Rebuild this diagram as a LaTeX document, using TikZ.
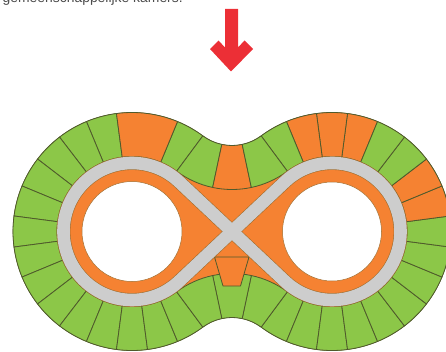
\documentclass[tikz,border=0pt]{standalone}
\usepackage{fontspec}
\setmainfont{Liberation Sans}
\definecolor{roomgreen}{HTML}{8CC748}
\definecolor{roomorange}{HTML}{F58232}
\definecolor{hallgray}{HTML}{CDCDCD}
\definecolor{arrowred}{HTML}{EC2F36}
\definecolor{wallline}{HTML}{4F5A2C}
\newcommand{\neckangle}{53.47}
% room on the ring: fill, centre x, from angle, to angle
\newcommand{\ringroom}[4]{\filldraw[roomwall, fill=#1] (#2,0) ++(#3:119) arc[start angle=#3, end angle=#4, radius=119] -- ++(#4:-44) arc[start angle=#4, end angle=#3, radius=75] -- cycle;}
% room on the neck: fill, centre y, from angle, to angle
\newcommand{\neckroom}[4]{\filldraw[roomwall, fill=#1] (0,#2) ++(#3:49) arc[start angle=#3, end angle=#4, radius=49] -- ++(#4:44) arc[start angle=#4, end angle=#3, radius=93] -- cycle;}
\begin{document}
\begin{tikzpicture}[x=1pt, y=1pt, roomwall/.style={draw=wallline, line width=0.8pt, line join=round}]
  \useasboundingbox (-232, -119.5) rectangle (214, 231.5);

  % Text line cut off by the top edge
  \node[font=\fontsize{13.9}{15}\selectfont, text=black!70, anchor=base west, inner sep=0pt] (caption) at (-229.5, 228.5) {gemeenschappelijke kamers.};

  % Red arrow
  \fill[arrowred] (-7, 222.5) -- (6, 222.5) -- (6, 184) -- (12.5, 191) -- (21, 182.5) -- (-1, 160) -- (-22, 182.5) -- (-13.5, 191) -- (-7, 184) -- cycle;

  % Whole floor
  \filldraw[fill=roomorange, draw=wallline, line width=0.6pt] (-100,0) ++(\neckangle:119)
    arc[start angle=\neckangle, end angle=360-\neckangle, radius=119]
    arc[start angle=180-\neckangle, end angle=\neckangle, radius=49]
    arc[start angle=180+\neckangle, end angle=540-\neckangle, radius=119]
    arc[start angle=360-\neckangle, end angle=180+\neckangle, radius=49] -- cycle;

  % Rooms round the left circle
  \foreach \a [evaluate=\a as \b using \a+15] in {97.5, 112.5, ..., 277.5}
    {\ringroom{roomgreen}{-100}{\a}{\b}}
  \ringroom{roomgreen}{-100}{292.5}{360-\neckangle}
  \ringroom{roomgreen}{-100}{\neckangle}{67.5}
  \ringroom{roomorange}{-100}{67.5}{97.5}

  % Rooms round the right circle
  \ringroom{roomgreen}{100}{180+\neckangle}{247.5}
  \foreach \a [evaluate=\a as \b using \a+15] in {247.5, 262.5, ..., 337.5}
    {\ringroom{roomgreen}{100}{\a}{\b}}
  \ringroom{roomgreen}{100}{352.5}{367.5}
  \foreach \a [evaluate=\a as \b using \a+15] in {7.5, 22.5, 67.5, 82.5, 97.5}
    {\ringroom{roomorange}{100}{\a}{\b}}
  \foreach \a [evaluate=\a as \b using \a+15] in {37.5, 52.5}
    {\ringroom{roomgreen}{100}{\a}{\b}}
  \ringroom{roomgreen}{100}{112.5}{180-\neckangle}

  % Rooms in the two necks
  \neckroom{roomgreen}{135}{180+\neckangle}{258}
  \neckroom{roomorange}{135}{258}{282}
  \neckroom{roomgreen}{135}{282}{360-\neckangle}
  \neckroom{roomgreen}{-135}{\neckangle}{78}
  \neckroom{roomgreen}{-135}{78}{102}
  \neckroom{roomgreen}{-135}{102}{180-\neckangle}
  \filldraw[roomwall, fill=roomorange] (-17.5, -25.5) -- (17, -25.5) -- (8.5, -54.5) -- (-9, -54.5) -- cycle;

  % Corridor as a figure of eight
  \foreach \w/\c in {13.8/wallline!50!roomorange, 12.6/hallgray}
    \draw[line width=\w, draw=\c, line join=round] ([shift={(-100,0)}]46.76:68.5)
      arc[start angle=46.76, end angle=313.24, radius=68.5]
      -- ([shift={(100,0)}]133.24:68.5)
      arc[start angle=133.24, end angle=-133.24, radius=68.5]
      -- cycle;

  % Courtyards
  \filldraw[fill=white, draw=wallline!50!roomorange, line width=0.5pt] (-100,0) circle (50);
  \filldraw[fill=white, draw=wallline!50!roomorange, line width=0.5pt] (100,0) circle (49.5);
\end{tikzpicture}
\end{document}
